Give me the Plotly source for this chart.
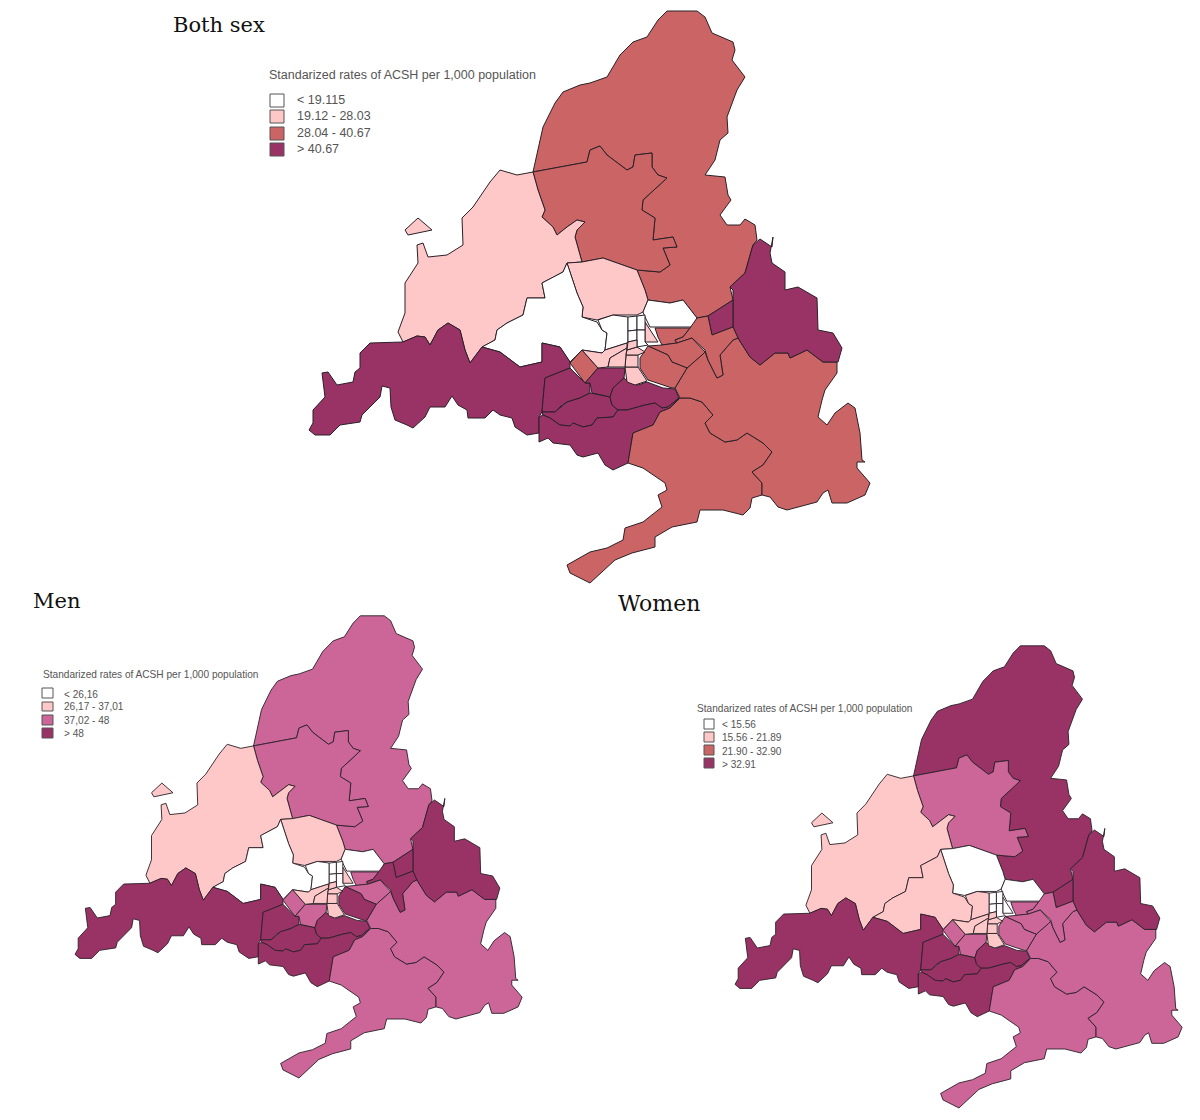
import plotly.graph_objects as go

# Region outlines in map units
north = [(533,172),(538,150),(543,127),(555,103),(563,92),(580,85),(590,83),(607,77),(620,55),(633,42),(647,37),(658,20),(667,11),(697,11),(705,17),(712,33),(733,42),(735,50),(732,60),(745,77),(737,90),(727,117),(728,133),(720,140),(715,160),(705,175),(725,177),(728,195),(731,200),(720,215),(727,225),(740,225),(745,219),(755,225),(757,240),(753,245),(745,273),(730,287),(733,300),(708,316),(697,318),(683,300),(670,303),(648,300),(645,290),(637,270),(660,272),(670,265),(663,248),(677,247),(673,237),(653,240),(655,218),(642,210),(643,200),(667,178),(658,175),(652,167),(652,153),(635,155),(633,167),(627,170),(607,155),(600,146),(590,150),(587,162)]
north_centre = [(533,172),(587,162),(590,150),(600,146),(607,155),(627,170),(633,167),(635,155),(652,153),(652,167),(658,175),(667,178),(643,200),(642,210),(655,218),(653,240),(673,237),(677,247),(663,248),(670,265),(660,272),(637,270),(617,263),(603,258),(582,262),(575,237),(577,230),(585,222),(577,220),(567,227),(557,235),(553,227),(542,217),(545,210),(538,190)]
west = [(533,172),(517,175),(500,170),(490,182),(473,207),(462,218),(463,245),(447,255),(428,257),(423,243),(417,245),(418,263),(405,283),(405,313),(398,332),(403,342),(417,336),(425,337),(430,345),(438,330),(448,323),(460,330),(465,350),(470,363),(482,347),(495,340),(497,330),(507,323),(523,315),(527,298),(545,298),(542,283),(563,272),(567,263),(582,262),(575,237),(577,230),(585,222),(577,220),(567,227),(557,235),(553,227),(542,217),(545,210),(538,190)]
island = [(418,218),(432,230),(408,235),(405,230)]
centre_pink = [(567,263),(582,262),(603,258),(617,263),(637,270),(645,290),(648,300),(643,312),(637,315),(613,315),(597,320),(582,317),(583,307),(577,293)]
white_west = [(563,272),(567,263),(577,293),(583,307),(582,317),(597,322),(602,330),(607,333),(605,350),(602,353),(582,350),(570,362),(560,347),(542,343),(542,362),(520,367),(500,352),(482,347),(495,340),(497,330),(507,323),(523,315),(527,298),(545,298),(542,283)]
centre_block = [(598,320),(613,315),(628,317),(628,342),(627,343),(605,350),(607,333),(602,330)]
big_west = [(542,343),(560,347),(570,362),(570,368),(545,378),(543,400),(542,412),(539,417),(539,433),(527,435),(515,427),(512,418),(500,415),(493,410),(485,418),(468,418),(467,410),(458,405),(452,396),(445,407),(430,407),(425,417),(413,428),(407,425),(395,420),(391,407),(390,388),(382,386),(380,397),(362,415),(360,422),(340,425),(330,435),(315,435),(309,430),(313,423),(313,410),(325,397),(322,373),(328,372),(337,385),(353,382),(355,372),(360,368),(360,353),(370,343),(403,342),(417,336),(425,337),(430,345),(438,330),(448,323),(460,330),(465,350),(470,363),(482,347),(500,352),(520,367),(542,362)]
diamond = [(570,363),(582,350),(598,368),(585,383)]
p_left = [(570,368),(545,378),(543,400),(542,412),(555,412),(562,405),(567,402),(580,398),(590,393),(590,383),(585,383)]
p_small = [(598,368),(625,368),(624,378),(613,388),(610,397),(592,393),(590,383),(585,383)]
p_mid = [(542,412),(555,412),(567,402),(580,398),(590,393),(610,397),(612,405),(618,410),(613,417),(597,418),(592,425),(583,427),(573,423),(570,426),(560,425),(550,418),(543,415)]
p_right = [(624,378),(630,383),(638,385),(647,382),(663,388),(675,389),(679,398),(668,407),(662,408),(655,403),(645,405),(627,410),(618,410),(612,405),(610,397),(613,388)]
p_bottom = [(539,417),(543,415),(550,418),(560,425),(570,426),(573,423),(583,427),(592,425),(597,418),(613,417),(618,410),(627,410),(645,405),(655,403),(662,408),(668,407),(679,398),(670,408),(660,412),(653,425),(633,433),(630,450),(628,463),(613,470),(605,465),(598,453),(583,457),(577,455),(570,445),(553,443),(548,438),(539,442)]
south = [(680,398),(670,408),(660,412),(653,425),(633,433),(630,450),(628,463),(643,468),(665,483),(667,490),(658,495),(662,507),(643,522),(625,528),(623,540),(607,548),(590,552),(567,565),(570,573),(590,583),(615,560),(632,553),(655,547),(655,537),(672,527),(697,522),(700,510),(723,510),(743,515),(750,508),(752,498),(762,495),(762,483),(752,472),(763,465),(772,452),(763,443),(747,433),(737,440),(725,442),(710,433),(705,423),(713,415),(702,402),(690,398)]
south_east = [(680,398),(675,388),(687,368),(702,355),(705,352),(708,360),(717,378),(723,375),(720,355),(733,340),(738,338),(750,357),(760,365),(775,353),(788,353),(790,358),(807,350),(823,362),(837,362),(837,373),(825,390),(822,400),(818,417),(827,425),(835,413),(848,403),(855,408),(860,433),(862,460),(865,462),(857,462),(857,468),(870,483),(865,495),(847,503),(832,503),(828,490),(823,493),(817,502),(787,510),(778,507),(770,497),(762,495),(762,483),(752,472),(763,465),(772,452),(763,443),(747,433),(737,440),(725,442),(710,433),(705,423),(713,415),(702,402),(690,398)]
east_purple = [(733,290),(730,287),(745,273),(753,245),(760,239),(772,247),(773,237),(770,253),(772,263),(785,272),(785,290),(798,287),(817,298),(818,330),(833,333),(842,348),(838,362),(823,362),(807,350),(790,358),(788,353),(775,353),(760,365),(750,357),(738,338),(733,327)]
small_purple = [(708,316),(733,300),(733,327),(712,335)]
white_north_east = [(645,317),(643,312),(648,300),(670,303),(683,300),(697,318),(693,327),(650,327)]
cell_east = [(655,328),(690,328),(683,337),(675,340),(677,343),(662,345),(658,337)]
strip = [(690,328),(697,318),(708,316),(712,335),(733,327),(738,338),(733,340),(720,355),(723,375),(717,378),(708,360),(705,350),(692,338),(677,343),(675,340),(683,337)]
between = [(648,346),(662,345),(677,343),(692,338),(705,352),(702,355),(687,368),(672,362),(668,355)]
below = [(648,346),(668,355),(672,362),(687,368),(675,388),(672,388),(648,380),(640,368),(640,358)]
pink_bottom = [(625,367),(638,367),(647,381),(635,385),(627,382)]
pink_cell = [(626,355),(638,355),(638,367),(625,367)]
triangle = [(645,322),(658,342),(645,342)]
fan_left = [(582,350),(602,353),(605,350),(627,343),(627,348),(610,358),(608,367),(598,368)]
fan_mid = [(610,358),(627,348),(626,355),(625,367),(608,367)]
fan_top = [(627,350),(637,347),(645,352),(638,355),(626,355)]
cell_a = [(628,317),(637,316),(637,330),(628,331)]
cell_b = [(637,316),(645,315),(645,330),(637,330)]
cell_c = [(628,331),(637,330),(637,340),(628,342)]
cell_d = [(637,330),(645,330),(645,342),(648,345),(637,347)]
cell_e = [(628,342),(637,340),(637,347),(627,350)]

regions = [north, north_centre, west, island, centre_pink, white_west, centre_block, big_west, diamond, p_left, p_small, p_mid, p_right, p_bottom, south, south_east, east_purple, small_purple, white_north_east, cell_east, strip, between, below, pink_bottom, pink_cell, triangle, fan_left, fan_mid, fan_top, cell_a, cell_b, cell_c, cell_d, cell_e]

# Class (0-3) of each region, per map
both_class  = [2,2,1,1,1,0,0,3,2,3,3,3,3,3,2,2,3,3,0,2,2,2,2,1,1,1,1,1,1,0,0,0,0,1]
men_class   = [2,2,1,1,1,0,0,3,2,3,2,3,3,3,2,2,3,3,0,2,3,2,3,1,1,1,1,1,1,0,0,0,0,1]
women_class = [3,2,1,1,0,1,1,3,2,3,2,3,3,3,2,2,3,3,0,2,2,2,2,1,1,0,1,1,1,0,0,0,0,1]

both_colors  = ["#ffffff", "#ffc8c8", "#cb6464", "#993366"]
men_colors   = ["#ffffff", "#ffc8c8", "#cc6699", "#993366"]
women_colors = ["#ffffff", "#ffc8c8", "#cc6699", "#993366"]
women_legend_colors = ["#ffffff", "#ffc8c8", "#cb6464", "#993366"]

legend_title = "Standarized rates of ACSH per 1,000 population"
both_labels  = ["< 19.115", "19.12 - 28.03", "28.04 - 40.67", "> 40.67"]
men_labels   = ["< 26,16", "26,17 - 37,01", "37,02 - 48", "> 48"]
women_labels = ["< 15.56", "15.56 - 21.89", "21.90 - 32.90", "> 32.91"]

W, H = 1200, 1120
fig = go.Figure()


def draw(classes, colors, xa, ya, lw):
    for poly, c in zip(regions, classes):
        xs = [p[0] for p in poly] + [poly[0][0]]
        ys = [p[1] for p in poly] + [poly[0][1]]
        fig.add_trace(go.Scatter(x=xs, y=ys, mode="lines", fill="toself", fillcolor=colors[c],
                                 line=dict(color="#2a2028", width=lw), xaxis=xa, yaxis=ya,
                                 hoverinfo="skip", showlegend=False))


draw(both_class, both_colors, "x", "y", 1)
draw(men_class, men_colors, "x2", "y2", 0.9)
draw(women_class, women_colors, "x3", "y3", 0.9)


def axis(lo, hi, **kw):
    return dict(range=[lo, hi], visible=False, domain=[0, 1], fixedrange=True, **kw)


SX, SY = 0.797, 0.808
men_x0, men_y0 = 309 - 75 / SX, 10 - 615 / SY
wom_x0, wom_y0 = 309 - 735 / SX, 10 - 645 / SY
layout_axes = dict(
    xaxis=axis(0, W), yaxis=axis(H, 0),
    xaxis2=axis(men_x0, men_x0 + W / SX, anchor="y2"), yaxis2=axis(men_y0 + H / SY, men_y0, anchor="x2"),
    xaxis3=axis(wom_x0, wom_x0 + W / SX, anchor="y3"), yaxis3=axis(wom_y0 + H / SY, wom_y0, anchor="x3"),
)

shapes, notes = [], []


def px(x):
    return x / W


def py(y):
    return 1 - y / H


def text(x, y, s, size, color, family):
    notes.append(dict(x=px(x), y=py(y), xref="paper", yref="paper", text=s, showarrow=False,
                      xanchor="left", yanchor="middle", xshift=0,
                      font=dict(size=size, color=color, family=family)))


def legend(tx, ty, tsize, sx0, sx1, boxes, lx, centers, labels, colors):
    text(tx, ty, legend_title, tsize, "#555555", "Liberation Sans")
    for (y0, y1), c, lab, cy in zip(boxes, colors, labels, centers):
        shapes.append(dict(type="rect", xref="paper", yref="paper", x0=px(sx0), x1=px(sx1), y0=py(y0), y1=py(y1),
                           fillcolor=c, line=dict(color="#555555", width=1)))
        text(lx, cy, lab, tsize, "#555555", "Liberation Sans")


legend(267, 75, 12.5, 270, 284, [(94, 107), (110, 123), (127, 140), (143, 156)], 295, [100, 116, 133, 149], both_labels, both_colors)
legend(41, 674, 10.1, 42, 53, [(688, 698), (702, 711), (715, 725), (728, 738)], 62, [694, 706, 720, 733], men_labels, men_colors)
legend(695, 708, 10.1, 704, 714, [(719, 729), (732, 742), (745, 755), (758, 768)], 720, [724, 737, 751, 764], women_labels, women_legend_colors)

text(171, 25, "Both sex", 21, "#111111", "DejaVu Serif")
text(31, 601, "Men", 21, "#111111", "DejaVu Serif")
text(616, 603, "Women", 22, "#111111", "DejaVu Serif")

fig.update_layout(width=W, height=H, margin=dict(l=0, r=0, t=0, b=0), paper_bgcolor="white", plot_bgcolor="rgba(0,0,0,0)",
                  shapes=shapes, annotations=notes, showlegend=False, **layout_axes)
fig.write_html("out.html", post_script="document.body.style.margin='0';document.body.style.overflow='hidden';",
               config=dict(displayModeBar=False))
